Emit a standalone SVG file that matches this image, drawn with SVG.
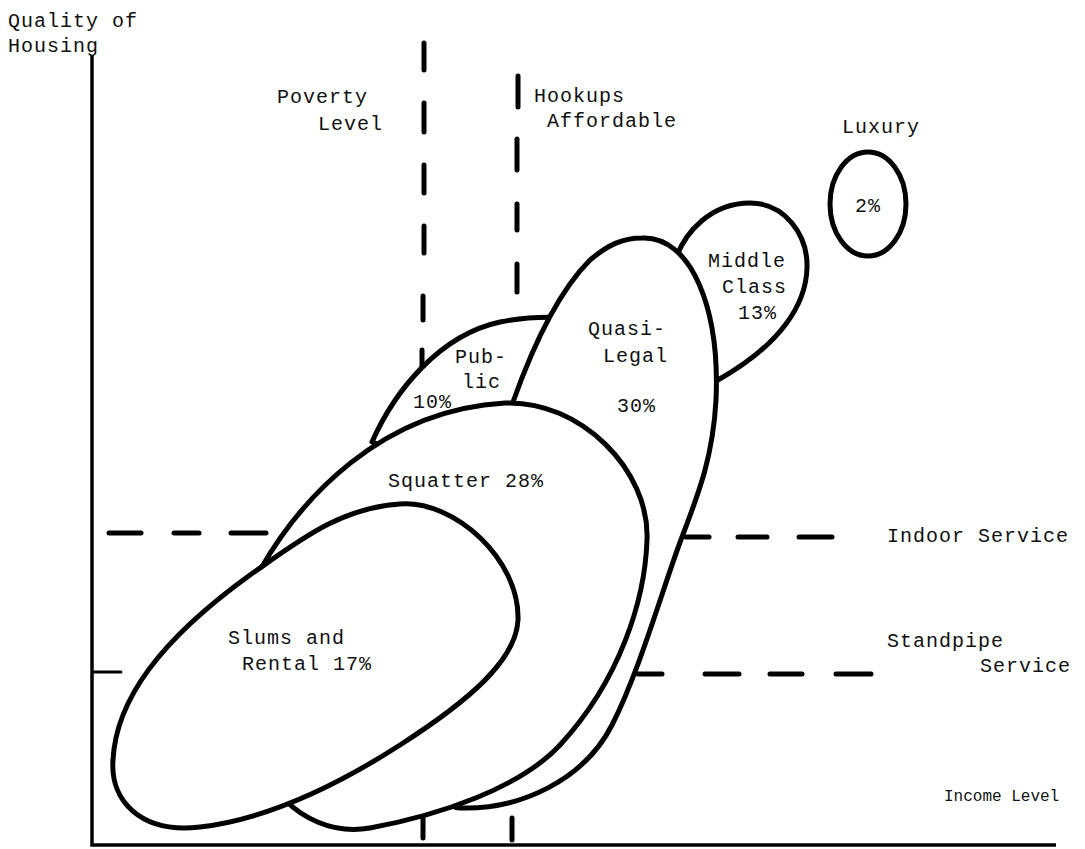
<svg xmlns="http://www.w3.org/2000/svg" width="1085" height="849" viewBox="0 0 1085 849">
<style>
.t{font-family:"Liberation Mono","DejaVu Sans Mono",monospace;font-size:20px;letter-spacing:1px;fill:#111}
.ts{font-family:"Liberation Mono","DejaVu Sans Mono",monospace;font-size:16px;fill:#111}
.blob{fill:#fff;stroke:#000;stroke-width:5;stroke-linejoin:round}
.dash{stroke:#000;stroke-width:5;stroke-linecap:round;fill:none}
.axis{stroke:#000;stroke-width:3.5;fill:none}
</style>
<rect width="1085" height="849" fill="#fff"/>
<g id="axes">
<path class="axis" d="M92,55 L92,845 L1056,845"/>
<text class="t" x="8" y="27">Quality of</text>
<text class="t" x="8" y="52">Housing</text>
<text class="ts" x="944" y="801">Income Level</text>
</g>
<g id="connectors">
<g id="poverty-line">
<line class="dash" x1="424" y1="43" x2="424" y2="70"/>
<line class="dash" x1="424" y1="103" x2="424" y2="132"/>
<line class="dash" x1="424" y1="165" x2="424" y2="193"/>
<line class="dash" x1="424" y1="226" x2="424" y2="253"/>
<line class="dash" x1="423" y1="296" x2="423" y2="320"/>
<line class="dash" x1="422" y1="350" x2="422" y2="372"/>
<line class="dash" x1="423" y1="815" x2="423" y2="838"/>
</g>
<g id="hookups-line">
<line class="dash" x1="518" y1="76" x2="518" y2="107"/>
<line class="dash" x1="517" y1="139" x2="517" y2="170"/>
<line class="dash" x1="517" y1="204" x2="517" y2="230"/>
<line class="dash" x1="517" y1="264" x2="517" y2="292"/>
<line class="dash" x1="512" y1="818" x2="512" y2="840"/>
</g>
<g id="indoor-line">
<line class="dash" x1="109" y1="533" x2="141" y2="533"/>
<line class="dash" x1="174" y1="533" x2="199" y2="533"/>
<line class="dash" x1="231" y1="533" x2="266" y2="533"/>
<line class="dash" x1="686" y1="537" x2="709" y2="537"/>
<line class="dash" x1="738" y1="537" x2="767" y2="537"/>
<line class="dash" x1="799" y1="537" x2="832" y2="537"/>
</g>
<g id="standpipe-line">
<line class="dash" x1="94" y1="672" x2="121" y2="672" style="stroke-width:3"/>
<line class="dash" x1="638" y1="674" x2="662" y2="674"/>
<line class="dash" x1="705" y1="674" x2="739" y2="674"/>
<line class="dash" x1="770" y1="674" x2="802" y2="674"/>
<line class="dash" x1="836" y1="674" x2="871" y2="674"/>
</g>
</g>
<g id="guide-labels">
<text class="t" x="277" y="103">Poverty</text>
<text class="t" x="318" y="130">Level</text>
<text class="t" x="534" y="102">Hookups</text>
<text class="t" x="547" y="127">Affordable</text>
<text class="t" x="887" y="542">Indoor Service</text>
<text class="t" x="887" y="647">Standpipe</text>
<text class="t" x="980" y="672">Service</text>
</g>
<g id="luxury">
<ellipse class="blob" cx="868" cy="204" rx="38" ry="52"/>
<text class="t" x="842" y="133">Luxury</text>
<text class="t" x="855" y="212">2%</text>
</g>
<g id="public">
<path class="blob" d="M372,442 C395,390 440,335 500,322 C530,316 560,316 590,320 L560,420 L420,460 Z"/>
</g>
<g id="middle-class">
<path class="blob" d="M674,264 C684,230 713,203 750,203 C785,203 808,235 807,268 C806,305 780,345 718,380 L692,340 Z"/>
</g>
<g id="quasi-legal">
<path class="blob" d="M642,238 C692,236 720,310 716,400 C713,455 700,490 682,537 C664,584 640,670 612,725 C584,780 520,810 460,808 C400,806 470,520 513,402 C535,340 560,290 590,260 C608,245 622,238 642,238 Z"/>
</g>
<g id="squatter">
<path class="blob" d="M505,403 C580,400 650,470 647,540 C645,600 620,680 560,745 C520,788 440,815 370,828 C330,835 300,815 285,800 C240,750 220,640 260,570 C300,500 380,410 505,403 Z"/>
</g>
<g id="slums">
<path class="blob" d="M400,504 C455,500 520,560 518,620 C516,660 470,700 400,745 C330,790 260,820 200,827 C140,834 110,800 113,760 C116,700 160,640 250,575 C300,540 340,508 400,504 Z"/>
</g>
<g id="labels">
<text class="t" x="708" y="267">Middle</text>
<text class="t" x="722" y="293">Class</text>
<text class="t" x="738" y="319">13%</text>
<text class="t" x="588" y="335">Quasi-</text>
<text class="t" x="603" y="362">Legal</text>
<text class="t" x="617" y="412">30%</text>
<text class="t" x="455" y="363">Pub-</text>
<text class="t" x="462" y="388">lic</text>
<text class="t" x="413" y="408">10%</text>
<text class="t" x="388" y="487">Squatter 28%</text>
<text class="t" x="228" y="644">Slums and</text>
<text class="t" x="242" y="670">Rental 17%</text>
</g>
</svg>
